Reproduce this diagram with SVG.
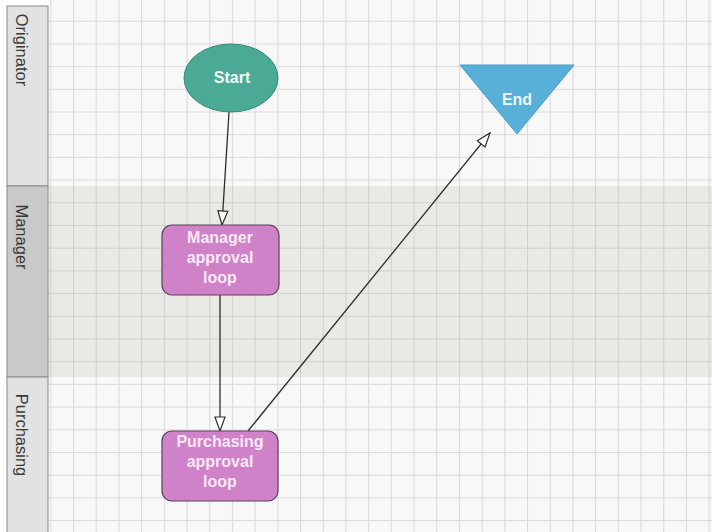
<svg xmlns="http://www.w3.org/2000/svg" width="712" height="532" viewBox="0 0 712 532">
<style>
.hdr{stroke:#8a8a8a;stroke-width:1}
.lane-t{font-family:"Liberation Sans",Arial,sans-serif;font-size:16.5px;fill:#3a3a3a}
.nt{font-family:"Liberation Sans",Arial,sans-serif;font-size:16px;font-weight:bold;text-anchor:middle}
.conn{stroke:#2e2e2e;stroke-width:1.3;fill:none;marker-end:url(#open)}
</style>
<defs>
<pattern id="g" patternUnits="userSpaceOnUse" x="50.3" y="-2" width="22.7" height="22.7">
<path d="M0 0.5H22.7M0.5 0V22.7" stroke="#dadada" stroke-width="1.2" fill="none"/>
</pattern>
<pattern id="g2" patternUnits="userSpaceOnUse" x="50.3" y="-2" width="22.7" height="22.7">
<path d="M0 0.5H22.7M0.5 0V22.7" stroke="#d0d1cc" stroke-width="1.2" fill="none"/>
</pattern>
<marker id="open" markerWidth="16" markerHeight="12" refX="15" refY="6" orient="auto" markerUnits="userSpaceOnUse">
<path d="M1 1L15 6L1 11Z" fill="#ffffff" stroke="#2e2e2e" stroke-width="1.2"/>
</marker>
</defs>
<rect width="712" height="532" fill="#ffffff"/>
<g id="lanes">
<rect x="48" y="0" width="664" height="186" fill="#f8f8f8"/>
<rect x="48" y="0" width="664" height="186" fill="url(#g)"/>
<rect x="48" y="186" width="664" height="191" fill="#e9eae5"/>
<rect x="48" y="186" width="664" height="191" fill="url(#g2)"/>
<rect x="48" y="377" width="664" height="155" fill="#f8f8f8"/>
<rect x="48" y="377" width="664" height="155" fill="url(#g)"/>
</g>
<g id="lane-originator">
<rect x="7" y="6" width="41" height="180" fill="#e2e2e2" class="hdr"/>
<text class="lane-t" transform="translate(16,50) rotate(90)" text-anchor="middle">Originator</text>
</g>
<g id="lane-manager">
<rect x="7" y="186" width="41" height="191" fill="#c9c9c9" class="hdr"/>
<text class="lane-t" transform="translate(16,237) rotate(90)" text-anchor="middle">Manager</text>
</g>
<g id="lane-purchasing">
<rect x="7" y="377" width="41" height="160" fill="#e2e2e2" class="hdr"/>
<text class="lane-t" transform="translate(16,435) rotate(90)" text-anchor="middle">Purchasing</text>
</g>
<g id="connectors">
<line class="conn" x1="229" y1="112" x2="222" y2="225"/>
<line class="conn" x1="220" y1="295" x2="220" y2="431"/>
<line class="conn" x1="248" y1="431" x2="490" y2="133"/>
</g>
<g id="start">
<ellipse cx="231" cy="78" rx="47" ry="34" fill="#4aaa95" stroke="#3a8a78" stroke-width="1"/>
<text class="nt" x="232" y="83" fill="#f2fbf8">Start</text>
</g>
<g id="end">
<polygon points="460,65 574,65 517,134" fill="#58b0d8" stroke="#4a9cc4" stroke-width="1"/>
<text class="nt" x="517" y="105" fill="#eef8fd">End</text>
</g>
<g id="manager">
<rect x="162" y="225" width="117" height="70" rx="10" fill="#d082c8" stroke="#5a4058" stroke-width="1.2"/>
<text class="nt" x="220" y="243" fill="#fbe8f8">Manager</text>
<text class="nt" x="220" y="263" fill="#fbe8f8">approval</text>
<text class="nt" x="220" y="283" fill="#fbe8f8">loop</text>
</g>
<g id="purchasing">
<rect x="162" y="431" width="116" height="70" rx="10" fill="#d082c8" stroke="#5a4058" stroke-width="1.2"/>
<text class="nt" x="220" y="447" fill="#fbe8f8">Purchasing</text>
<text class="nt" x="220" y="467" fill="#fbe8f8">approval</text>
<text class="nt" x="220" y="487" fill="#fbe8f8">loop</text>
</g>
</svg>
